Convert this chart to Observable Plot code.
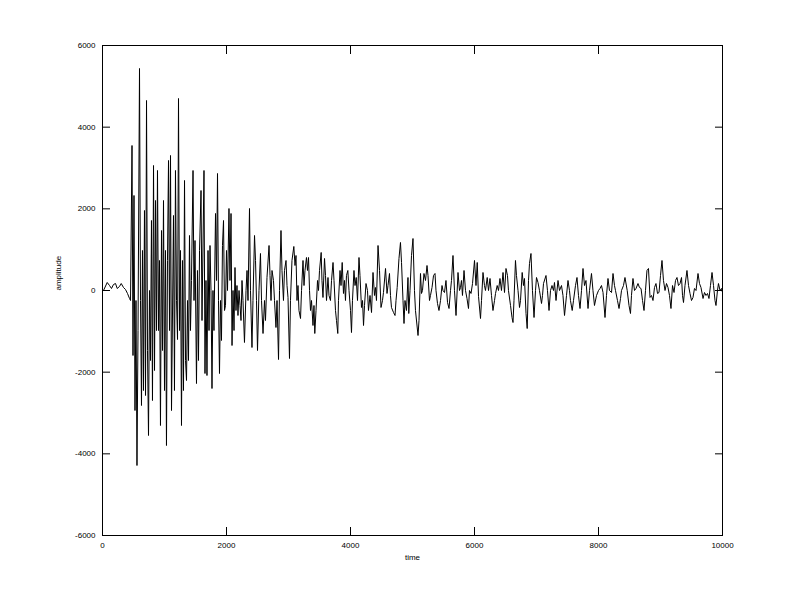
<!DOCTYPE html>
<html><head><meta charset="utf-8">
<script src="https://cdn.jsdelivr.net/npm/d3@7"></script>
<script src="https://cdn.jsdelivr.net/npm/@observablehq/plot@0.6"></script>
<style>body{margin:0;background:#fff}</style>
</head><body><div id="chart"></div>
<script>
const xTicks = [0, 2000, 4000, 6000, 8000, 10000];
const yTicks = [-6000, -4000, -2000, 0, 2000, 4000, 6000];
const xLabel = "time";
const yLabel = "amplitude";

// [time, amplitude]
const preEvent = [[0,-24],[16,0],[76,196],[113,122],[145,49],[177,147],[210,171],[237,49],[274,98],[302,171],[339,73],[371,24],[403,-73],[436,-196],[452,-245]];
const onset = [[476,3551],[492,-1592],[508,2327],[524,-2939],[540,-245],[556,-4286],[573,-980],[597,5437],[613,-245],[629,-2816],[645,980],[661,-2449],[677,1959],[694,-2571],[710,4653],[726,-1469],[742,-3551],[758,0],[774,-1714],[790,1714],[806,-2694],[823,3061],[839,-1959],[855,2204],[871,-980],[887,2939],[903,-980],[919,735],[935,-3306],[952,1469],[968,-1469],[984,2204],[1000,-2449],[1016,980],[1032,-3796],[1048,735],[1065,3184],[1081,-980],[1097,3306],[1113,-2939],[1129,-600],[1145,1837],[1161,-2449],[1177,2939],[1194,-245],[1210,-1200],[1226,4702],[1242,-980],[1258,980],[1274,-3306],[1290,735],[1306,-2449],[1323,2694],[1339,-1714]];
const strong = [[1355,-2204],[1371,-245],[1387,-1714],[1403,1347],[1419,-980],[1435,245],[1460,2939],[1476,-245],[1492,1224],[1516,-2278],[1532,490],[1548,-1714],[1565,980],[1589,2449],[1605,-735],[1637,2939],[1653,-2033],[1669,245],[1685,-2082],[1702,980],[1718,-980],[1734,1102],[1750,0],[1766,-2400],[1782,0],[1798,-980],[1823,1886],[1839,245],[1855,2865],[1871,-245],[1887,-2033],[1903,-245],[1919,-1224],[1935,1102],[1952,1714],[1968,-490],[1984,-367],[2000,980],[2016,0],[2040,2008],[2056,245],[2073,1886],[2089,-1347],[2105,0],[2121,-980],[2137,563],[2153,-490],[2169,122],[2185,-612],[2202,0],[2218,-367]];
const decay = [[2234,-735],[2250,245],[2266,-245],[2290,-1273],[2315,0],[2331,490],[2347,-245],[2371,2008],[2387,0],[2411,-1396],[2427,-245],[2452,1347],[2468,735],[2484,-245],[2500,-1469],[2524,0],[2548,906],[2565,-245],[2589,-1053],[2613,-245],[2629,-735],[2653,318],[2686,1102],[2702,367],[2718,-245],[2734,490],[2758,245],[2774,-245],[2798,-906],[2815,-245],[2839,-1690],[2855,0],[2879,1469],[2895,490],[2919,-245],[2935,490],[2960,735],[2976,122],[2992,-171],[3016,-1665],[3032,-245],[3056,735]];
const coda1 = [[3086,1078],[3105,612],[3121,857],[3137,-245],[3153,122],[3169,-490],[3194,-686],[3210,0],[3234,735],[3250,122],[3266,490],[3290,808],[3306,490],[3323,808],[3339,0],[3355,-490],[3371,-245],[3395,-857],[3411,-367],[3424,-1053],[3444,-490],[3468,245],[3484,0],[3500,490],[3527,931],[3540,245],[3556,-171],[3581,784],[3597,367],[3613,-245],[3637,318],[3653,-122],[3677,-245],[3694,245],[3718,686],[3734,245],[3758,-490],[3774,-735],[3795,-1053],[3806,-245],[3831,490],[3847,122],[3866,686],[3887,-73],[3903,245],[3919,-245],[3935,367],[3957,490],[3976,0],[4000,-490],[4016,-1029],[4032,-245],[4056,490],[4073,122],[4092,318],[4113,-245],[4137,808],[4153,367],[4177,-416],[4194,-245],[4210,-857],[4226,-367],[4250,171],[4274,0],[4290,-490],[4315,-122]];
const coda2 = [[4339,-539],[4363,441],[4387,-122],[4403,73],[4419,-245],[4444,1102],[4468,490],[4492,-416],[4516,-245],[4532,-49],[4565,539],[4589,-73],[4605,122],[4629,416],[4645,-122],[4661,-416],[4694,-539],[4718,-612],[4734,-245],[4753,73],[4782,784],[4806,1176],[4823,686],[4847,-245],[4863,-808],[4879,-245],[4903,-490],[4927,318],[4940,-563],[4960,0],[4984,857],[5008,1273],[5032,0],[5048,-490],[5089,-1102],[5105,-735],[5129,416],[5145,-73],[5161,0],[5185,416],[5210,245],[5234,612],[5250,367],[5274,-245],[5290,-122],[5315,73],[5339,367],[5363,416],[5379,0],[5403,-318],[5427,-490],[5452,-245],[5476,122],[5492,0],[5516,-49]];
const coda3 = [[5540,245],[5565,-294],[5589,-441],[5613,0],[5629,245],[5653,857],[5677,0],[5702,-612],[5734,441],[5758,0],[5774,73],[5790,245],[5806,-122],[5831,490],[5855,0],[5879,-196],[5903,-441],[5919,0],[5944,-73],[5968,171],[6000,735],[6024,122],[6044,686],[6065,-147],[6097,-686],[6113,-245],[6137,441],[6161,122],[6177,0],[6205,318],[6226,0],[6250,294],[6274,-122],[6298,-490],[6323,-245],[6339,-73],[6366,122],[6387,0],[6411,294],[6435,0],[6460,441],[6484,-49],[6508,539],[6532,367],[6548,0],[6581,-367],[6605,-661],[6621,-784],[6637,-245],[6661,735],[6677,367],[6702,0],[6726,-416],[6742,-245]];
const coda4 = [[6769,441],[6790,122],[6806,294],[6831,-563],[6850,-931],[6871,245],[6887,661],[6911,906],[6935,0],[6960,-661],[6984,0],[7000,318],[7024,196],[7048,0],[7081,-318],[7097,-122],[7113,171],[7153,367],[7177,0],[7202,-490],[7226,0],[7250,122],[7274,0],[7290,196],[7315,-245],[7347,245],[7371,0],[7403,122],[7427,-122],[7452,-612],[7484,-122],[7508,245],[7532,0],[7548,-245],[7576,-490],[7597,-245],[7629,122],[7653,318],[7677,-122],[7702,-441],[7726,0],[7750,539],[7774,122],[7798,245],[7831,-441],[7855,0],[7887,416],[7911,0],[7935,-367],[7968,-122],[8000,0]];
const coda5 = [[8024,49],[8048,122],[8073,-49],[8105,-661],[8129,-122],[8153,294],[8177,0],[8210,-49],[8234,416],[8258,122],[8274,0],[8306,-245],[8331,-441],[8355,-196],[8371,0],[8403,122],[8427,318],[8463,0],[8492,-367],[8516,-563],[8532,-122],[8556,294],[8581,0],[8605,49],[8637,171],[8661,73],[8686,49],[8710,-245],[8734,-490],[8758,0],[8782,490],[8806,539],[8831,-171],[8855,-122],[8879,-245],[8903,73],[8927,171],[8952,-73],[8976,-49],[9000,367],[9024,735],[9048,245],[9073,0],[9097,171],[9121,73],[9145,-122],[9169,-441],[9194,122],[9218,-49],[9242,245],[9266,318],[9290,122],[9315,171]];
const coda6 = [[9339,318],[9355,-122],[9371,-294],[9395,122],[9427,490],[9452,122],[9476,-73],[9500,-245],[9524,-171],[9548,49],[9573,0],[9605,416],[9629,171],[9653,73],[9686,-196],[9710,-49],[9734,-122],[9758,-73],[9782,-196],[9806,122],[9831,441],[9855,122],[9879,-245],[9895,-367],[9919,0],[9935,171],[9960,0],[9984,49],[10000,-49]];

const data = [...preEvent, ...onset, ...strong, ...decay, ...coda1, ...coda2, ...coda3, ...coda4, ...coda5, ...coda6]
  .map(([t, a]) => ({t, a}));

const fmt = d => String(d);
const chart = Plot.plot({
  width: 799, height: 599,
  marginLeft: 102, marginRight: 77, marginTop: 45, marginBottom: 64,
  style: {fontFamily: "'Liberation Sans', Arial, sans-serif", fontSize: "8px", background: "white", color: "black"},
  x: {domain: [0, 10000]},
  y: {domain: [-6000, 6000]},
  marks: [
    Plot.line(data, {x: "t", y: "a", stroke: "black", strokeWidth: 1}),
    Plot.frame({stroke: "black"}),
    Plot.axisX(xTicks, {anchor: "bottom", tickSize: -8, tickPadding: 15, tickFormat: fmt, label: null}),
    Plot.axisX(xTicks, {anchor: "top", tickSize: -8, tickFormat: () => "", label: null}),
    Plot.axisY(yTicks, {anchor: "left", tickSize: -8, tickPadding: 15, tickFormat: fmt, label: null}),
    Plot.axisY(yTicks, {anchor: "right", tickSize: -8, tickFormat: () => "", label: null}),
    Plot.text([xLabel], {frameAnchor: "bottom", dy: 24, text: d => d}),
    Plot.text([yLabel], {frameAnchor: "left", rotate: -90, dx: -44, text: d => d})
  ]
});
document.getElementById("chart").appendChild(chart);
</script>
</body></html>
